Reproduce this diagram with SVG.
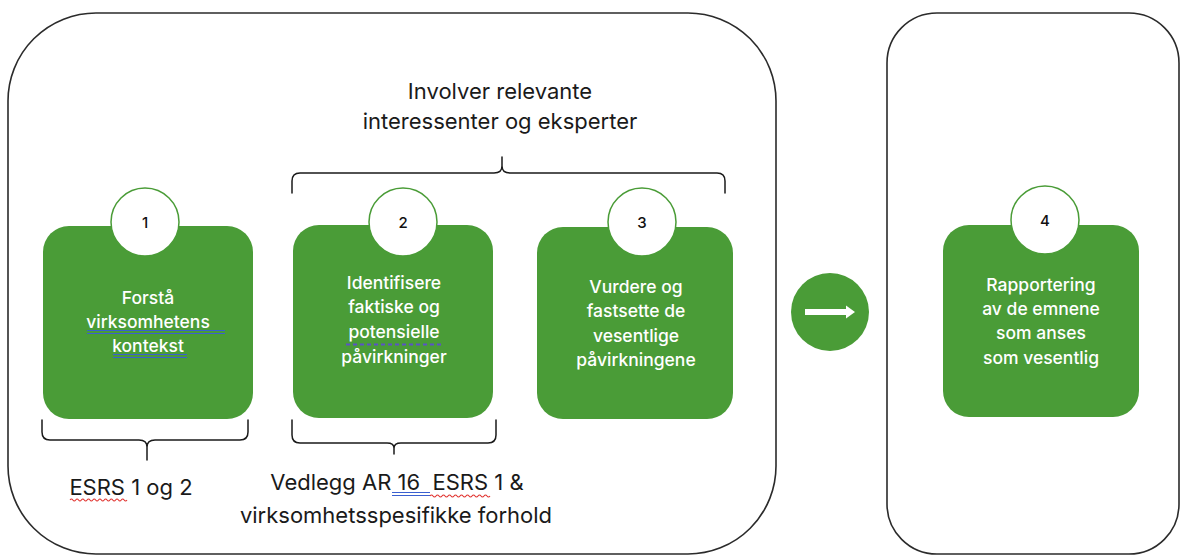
<svg xmlns="http://www.w3.org/2000/svg" width="1182" height="555" viewBox="0 0 1182 555">
  <style>
    .frame { fill: #ffffff; stroke: #2b2b2b; stroke-width: 1.6; }
    .step { fill: #4a9c37; }
    .badge { fill: #ffffff; stroke: #4a9c37; stroke-width: 1.5; }
    .num { font-family: Inter, "Liberation Sans", sans-serif; font-size: 15px; font-weight: 500; fill: #111111; text-anchor: middle; }
    .body { font-family: Inter, "Liberation Sans", sans-serif; font-size: 17.5px; font-weight: 500; fill: #ffffff; text-anchor: middle; }
    .label { font-family: Inter, "Liberation Sans", sans-serif; font-size: 22px; fill: #1a1a1a; text-anchor: middle; }
    .brace { fill: none; stroke: #1a1a1a; stroke-width: 1.5; stroke-linecap: round; }
    .grammar { stroke: #3a5fd0; stroke-width: 1.2; fill: none; }
    .spell { stroke: #e0322e; stroke-width: 1.1; fill: none; }
    .dots { stroke: #5a52c8; stroke-width: 2; stroke-dasharray: 4 3; fill: none; }
  </style>
  <defs>
    <path id="wave" d="M0,0 q1.5,-2 3,0 t3,0 t3,0 t3,0 t3,0 t3,0 t3,0 t3,0 t3,0 t3,0 t3,0 t3,0 t3,0 t3,0 t3,0 t3,0 t3,0 t3,0 t3,0 t3,0"/>
  </defs>

  <rect width="1182" height="555" fill="#ffffff"/>

  <!-- outer frames -->
  <g id="frame-analysis">
    <rect class="frame" x="8" y="13" width="768" height="541" rx="88" ry="88"/>
  </g>
  <g id="frame-reporting">
    <rect class="frame" x="887" y="13" width="292" height="541" rx="50" ry="50"/>
  </g>

  <!-- shared heading -->
  <g id="heading">
    <text class="label" x="500" y="99">Involver relevante</text>
    <text class="label" x="500" y="129">interessenter og eksperter</text>
  </g>

  <!-- step 1 -->
  <g id="step1">
    <rect class="step" x="43" y="226" width="210" height="193" rx="26"/>
    <circle class="badge" cx="145" cy="222" r="34"/>
    <text class="num" x="145" y="228">1</text>
    <text class="body" x="148" y="304">Forstå</text>
    <text class="body" x="148" y="328">virksomhetens</text>
    <text class="body" x="148" y="352">kontekst</text>
    <path class="grammar" d="M87,330.5 H225 M87,333.5 H225 M113,354.5 H187 M113,357.5 H187"/>
  </g>

  <!-- step 2 -->
  <g id="step2">
    <rect class="step" x="293" y="225" width="200" height="193" rx="26"/>
    <circle class="badge" cx="403" cy="222" r="34"/>
    <text class="num" x="403" y="228">2</text>
    <text class="body" x="394" y="289">Identifisere</text>
    <text class="body" x="394" y="313">faktiske og</text>
    <text class="body" x="394" y="338">potensielle</text>
    <text class="body" x="394" y="363">påvirkninger</text>
    <path class="dots" d="M346,344.5 H443"/>
  </g>

  <!-- step 3 -->
  <g id="step3">
    <rect class="step" x="537" y="227" width="196" height="192" rx="26"/>
    <circle class="badge" cx="642" cy="222" r="34"/>
    <text class="num" x="642" y="228">3</text>
    <text class="body" x="636" y="293">Vurdere og</text>
    <text class="body" x="636" y="317">fastsette de</text>
    <text class="body" x="636" y="342">vesentlige</text>
    <text class="body" x="636" y="366">påvirkningene</text>
  </g>

  <!-- step 4 -->
  <g id="step4">
    <rect class="step" x="943" y="225" width="196" height="192" rx="26"/>
    <circle class="badge" cx="1045" cy="220" r="34"/>
    <text class="num" x="1045" y="226">4</text>
    <text class="body" x="1041" y="291">Rapportering</text>
    <text class="body" x="1041" y="315">av de emnene</text>
    <text class="body" x="1041" y="339">som anses</text>
    <text class="body" x="1041" y="364">som vesentlig</text>
  </g>

  <!-- transition marker between the phases -->
  <g id="transition">
    <circle cx="830" cy="312" r="39" fill="#4a9c37"/>
    <path d="M805,309 H846 V305.5 L855,312 L846,318.5 V315 H805 Z" fill="#ffffff"/>
  </g>

  <!-- braces -->
  <g id="connectors">
    <path class="brace" d="M292,193 V181 Q292,173 300,173 H494 Q502,173 502,166 V157 M502,166 Q502,173 510,173 H717 Q725,173 725,181 V193"/>
    <path class="brace" d="M42,420 V432 Q42,440 50,440 H139 Q147,440 147,447 V460 M147,447 Q147,440 155,440 H240 Q248,440 248,432 V420"/>
    <path class="brace" d="M292,420 V435 Q292,443 300,443 H387 Q394,443 394,448 V454 M394,448 Q394,443 401,443 H488 Q496,443 496,435 V420"/>
  </g>

  <g id="source-step1">
    <text class="label" x="131" y="495">ESRS 1 og 2</text>
    <use href="#wave" class="spell" transform="translate(70,500) scale(0.95,1)"/>
  </g>

  <g id="source-step2">
    <text class="label" x="397" y="490" xml:space="preserve">Vedlegg AR 16  ESRS 1 &amp;</text>
    <text class="label" x="396" y="523">virksomhetsspesifikke forhold</text>
    <path class="grammar" d="M392,492.5 H430 M392,495.5 H430"/>
    <use href="#wave" class="spell" transform="translate(430,496)"/>
  </g>
</svg>
